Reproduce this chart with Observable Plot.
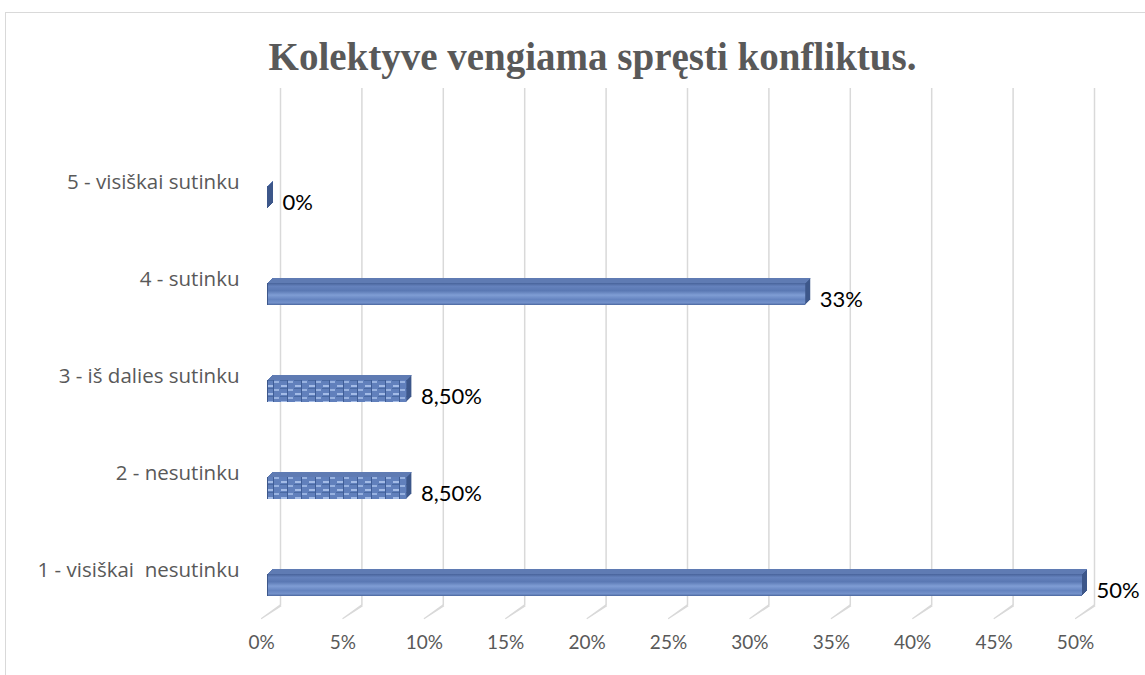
<!DOCTYPE html>
<html><head><meta charset="utf-8">
<script src="https://cdn.jsdelivr.net/npm/d3@7"></script>
<script src="https://cdn.jsdelivr.net/npm/@observablehq/plot@0.6"></script>
<style>
html,body{margin:0;padding:0;background:#fff}
body{width:1145px;height:675px;overflow:hidden;position:relative;font-family:Lato,sans-serif}
#frame{position:absolute;left:5px;top:12px;width:1200px;height:700px;border:1px solid #d9d9d9;box-sizing:border-box;pointer-events:none}
#title{position:relative;height:80px;box-sizing:border-box;margin:0;padding:38px 0 0 40px;font:bold 39px/38px "Liberation Serif","Times New Roman",serif;color:#595959;text-align:center;white-space:nowrap}
#chart{position:relative}
#chart svg text{white-space:pre;font-variant-ligatures:none}
</style>
</head><body>
<div id="frame"></div>
<div id="title">Kolektyve vengiama spręsti konfliktus.</div>
<div id="chart"></div>
<script>
const categories = ["5 - visiškai sutinku", "4 - sutinku", "3 - iš dalies sutinku", "2 - nesutinku", "1 - visiškai  nesutinku"];
const values = [0, 33, 8.5, 8.5, 50];
const valueLabels = ["0%", "33%", "8,50%", "8,50%", "50%"];
const xTicks = [0, 5, 10, 15, 20, 25, 30, 35, 40, 45, 50];
const xTickLabels = ["0%", "5%", "10%", "15%", "20%", "25%", "30%", "35%", "40%", "45%", "50%"];

const rows = categories.map((c, i) => ({cat: c, value: values[i], label: valueLabels[i]}));
const checkered = new Set(["3 - iš dalies sutinku", "2 - nesutinku"]);

const sideColor = "#3d578a";
const topColor = "#5f7bb3";
const depth = 5;

const extrude = [];
for (let k = 0; k <= depth; k++) {
  extrude.push(Plot.barX(rows, {x: "value", y: "cat", dx: k, dy: -k, insetLeft: -1, fill: sideColor}));
}
for (let k = 1; k <= depth; k++) {
  extrude.push(Plot.barX(rows, {x: "value", y: "cat", dx: k, dy: -k, insetLeft: -1, insetBottom: 21, fill: topColor}));
}

const svg = Plot.plot({
  width: 1145,
  height: 595,
  marginLeft: 268,
  marginRight: 63,
  marginTop: 8,
  marginBottom: 70,
  style: {fontFamily: "Lato, sans-serif", background: "transparent"},
  x: {domain: [0, 50], axis: null},
  y: {domain: categories, range: [67.25, 554.75], paddingInner: 0.774, paddingOuter: 0.387, axis: null},
  marks: [
    Plot.ruleX(xTicks, {x: d => d, dx: 12, stroke: "#d9d9d9", strokeWidth: 1.5}),
    Plot.vector(xTicks, {x: d => d, frameAnchor: "bottom", dx: 12, length: 23, rotate: 235.6, anchor: "start", shape: "spike", r: 0.6, fill: "#d9d9d9", stroke: "#d9d9d9", strokeWidth: 1.2}),
    ...extrude,
    Plot.barX(rows, {x: "value", y: "cat", fill: "url(#barGrad)", filter: d => !checkered.has(d.cat)}),
    Plot.barX(rows, {x: "value", y: "cat", fill: "url(#barChk)", filter: d => checkered.has(d.cat)}),
    Plot.text(rows, {x: "value", y: "cat", text: "label", dx: 14, dy: 5, textAnchor: "start", fontSize: 22, fill: "#000"}),
    Plot.text(rows, {y: "cat", text: "cat", frameAnchor: "left", textAnchor: "end", dx: -29, dy: -15, fontSize: 20.5, fontFamily: "'Open Sans', sans-serif", fill: "#595959"}),
    Plot.text(xTicks, {x: d => d, text: (d, i) => xTickLabels[i], frameAnchor: "bottom", dx: -7, dy: 43, fontSize: 19, fill: "#595959"})
  ]
});

const defs = d3.select(svg).insert("defs", ":first-child");
const g = defs.append("linearGradient").attr("id", "barGrad").attr("x1", 0).attr("y1", 0).attr("x2", 0).attr("y2", 1);
[["0%", "#48639a"], ["15%", "#6582bd"], ["35%", "#5a78b3"], ["55%", "#7f9dd4"], ["75%", "#6584c0"], ["90%", "#7492cb"], ["100%", "#4a669e"]]
  .forEach(([o, c]) => g.append("stop").attr("offset", o).attr("stop-color", c));
const p = defs.append("pattern").attr("id", "barChk").attr("patternUnits", "userSpaceOnUse").attr("width", 14).attr("height", 8);
p.append("rect").attr("width", 14).attr("height", 8).attr("fill", "#6180bc");
p.append("rect").attr("x", 1).attr("y", 1).attr("width", 6).attr("height", 2).attr("fill", "#a3bbe6");
p.append("rect").attr("x", 8).attr("y", 5).attr("width", 5).attr("height", 2).attr("fill", "#98b2e0");
p.append("rect").attr("x", 7).attr("y", 0).attr("width", 1).attr("height", 8).attr("fill", "#3f5d96");
p.append("rect").attr("x", 0).attr("y", 4).attr("width", 7).attr("height", 1).attr("fill", "#4a6aa3");

document.getElementById("chart").appendChild(svg);
</script>
</body></html>
